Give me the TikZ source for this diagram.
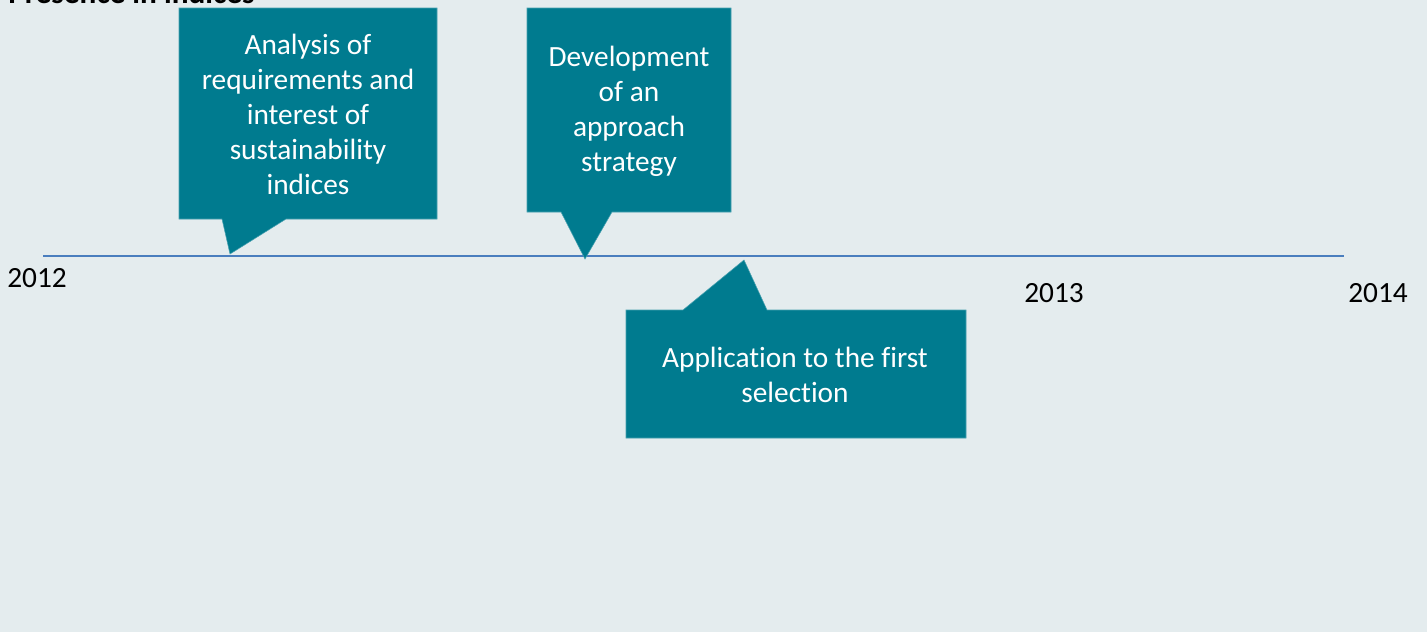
\documentclass[tikz,border=0pt]{standalone}
\usepackage{fontspec}
\setmainfont{Carlito}[RawFeature=-liga]
\definecolor{paneBg}{RGB}{228,236,238}
\definecolor{calloutTeal}{RGB}{0,123,143}
\definecolor{calloutEdge}{RGB}{70,160,175}
\definecolor{axisBlue}{RGB}{74,126,190}
\tikzset{
	callout/.style={fill=calloutTeal, draw=calloutEdge, line width=0.4pt},
	boxtext/.style={inner sep=0pt, align=center, text=white, font=\fontsize{22}{26.25}\selectfont},
	yeartext/.style={inner sep=0pt, text=black, font=\fontsize{22}{26.25}\selectfont}
}
\begin{document}
\begin{tikzpicture}[x=0.75pt,y=0.75pt,yscale=-1,xscale=1]
		\useasboundingbox (0,0) rectangle (1427,632);
		\fill[paneBg] (0,0) rectangle (1427,632);

		% Title Node (cut at the top edge)
		\node [anchor=base west, inner sep=0pt, font=\fontsize{23.5}{28}\selectfont\bfseries] (title) at (8,3) {Presence in indices};

		%Shape: Line
		\coordinate (axisStart) at (43,256);
		\coordinate (axisEnd) at (1344,256);
		\draw [axisBlue, line width=1.6pt] (axisStart) -- (axisEnd);

		%Shape: Callout 1
		\path [callout] (179,8) -- (437,8) -- (437,219) -- (286,219) -- (230,254) -- (222,219) -- (179,219) -- cycle;
		%Shape: Callout 2
		\path [callout] (527,8) -- (731,8) -- (731,212) -- (612,212) -- (585,259) -- (561,212) -- (527,212) -- cycle;
		%Shape: Callout 3
		\path [callout] (626,310) -- (683,310) -- (744,260) -- (767,310) -- (966,310) -- (966,438) -- (626,438) -- cycle;

		% Text Node
		\node [boxtext] (analysis) at (308,114) {Analysis of\\requirements and\\interest of\\sustainability\\indices};
		% Text Node
		\node [boxtext] (development) at (629,111) {Development\\of an\\approach\\strategy};
		% Text Node
		\node [boxtext] (application) at (795,375) {Application to the first\\selection};

		% Year Nodes
		\node [yeartext] (y2012) at (37,278) {2012};
		\node [yeartext] (y2013) at (1054,293) {2013};
		\node [yeartext] (y2014) at (1378,293) {2014};

		\end{tikzpicture}
\end{document}
